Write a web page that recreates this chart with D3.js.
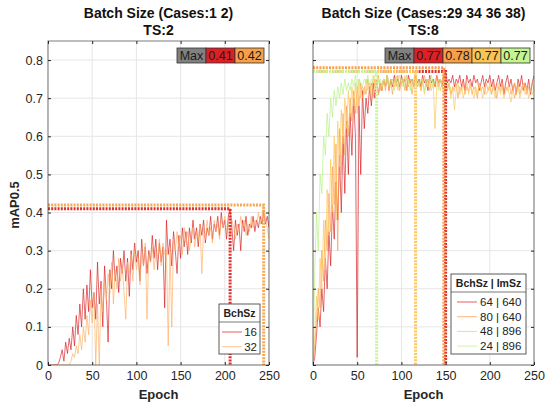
<!DOCTYPE html>
<html><head><meta charset="utf-8">
<script src="https://cdn.jsdelivr.net/npm/d3@7"></script>
<style>body{margin:0;background:#fff}svg{display:block}text{font-family:"Liberation Sans",Arial,sans-serif}</style>
</head><body>
<svg id="c" width="545" height="406"></svg>
<script>
// ---------- data ----------
const epochStep = 2;
const xTicks = [0, 50, 100, 150, 200, 250];
const yTicks = [0, 0.1, 0.2, 0.3, 0.4, 0.5, 0.6, 0.7, 0.8];

const leftTitle = ["Batch Size (Cases:1 2)", "TS:2"];
const rightTitle = ["Batch Size (Cases:29 34 36 38)", "TS:8"];
const leftLegendTitle = "BchSz";
const rightLegendTitle = "BchSz | ImSz";
const leftNames = ["16", "32"];
const rightNames = ["64 | 640", "80 | 640", "48 | 896", "24 | 896"];

const bs16 = [
0,0,0,0,0,0,0.005,0.02,0.04,0.01,
0.06,0.03,0.07,0.04,0.1,0.05,0.13,0.08,0.16,0.1,
0.2,0.12,0.21,0.14,0.25,0.15,0.19,0.12,0.27,0.16,
0.22,0.1,0.26,0.18,0.06,0.25,0.2,0.3,0.22,0.26,
0.19,0.28,0.24,0.3,0.22,0.28,0.18,0.3,0.25,0.32,
0.27,0.3,0.22,0.33,0.26,0.31,0.24,0.3,0.27,0.34,
0.28,0.33,0.25,0.32,0.27,0.31,0.15,0.38,0.29,0.33,
0.26,0.35,0.3,0.24,0.34,0.28,0.36,0.31,0.35,0.29,
0.36,0.32,0.38,0.33,0.36,0.31,0.37,0.34,0.38,0.32,
0.36,0.34,0.39,0.33,0.37,0.35,0.39,0.34,0.40,0.36,
0.38,0.33,0.39,0.41,0.36,0.3,0.38,0.34,0.37,0.3,
0.38,0.35,0.39,0.34,0.37,0.36,0.39,0.35,0.38,0.36,
0.39,0.37,0.40,0.37,0.39,0.36];
const bs32 = [
0,0,0,0,0,0,0,0,0,0,
0,0,0,0.01,0.03,0.02,0.05,0.03,0.08,0.04,
0.1,0.06,0.13,0.08,0.17,0.11,0.19,0.0,0.16,0.0,
0.2,0.14,0.22,0.17,0.24,0.19,0.27,0.16,0.25,0.2,
0.28,0.22,0.26,0.19,0.12,0.27,0.24,0.29,0.22,0.3,
0.25,0.28,0.21,0.3,0.26,0.32,0.12,0.29,0.27,0.31,
0.25,0.3,0.28,0.33,0.26,0.32,0.29,0.3,0.05,0.31,
0.1,0.33,0.3,0.35,0.31,0.34,0.29,0.36,0.32,0.35,
0.3,0.34,0.36,0.31,0.35,0.33,0.37,0.24,0.36,0.33,
0.38,0.34,0.36,0.32,0.38,0.35,0.37,0.33,0.38,0.36,
0.39,0.35,0.37,0.34,0.38,0.36,0.33,0.37,0.35,0.39,
0.36,0.38,0.34,0.37,0.35,0.39,0.36,0.38,0.37,0.4,
0.37,0.39,0.42,0.38,0.36,0.33];

const r64 = [
0,0.02,0.08,0.15,0.1,0.2,0.14,0.28,0.2,0.35,
0.26,0.42,0.33,0.48,0.38,0.55,0.4,0.6,0.45,0.64,
0.5,0.66,0.55,0.7,0.6,0.02,0.68,0.5,0.72,0.62,
0.7,0.66,0.73,0.68,0.74,0.7,0.75,0.71,0.74,0.72,
0.75,0.73,0.76,0.72,0.75,0.73,0.76,0.74,0.75,0.73,
0.76,0.74,0.75,0.72,0.76,0.74,0.75,0.73,0.76,0.74,
0.75,0.73,0.76,0.74,0.75,0.72,0.76,0.74,0.75,0.73,
0.76,0.74,0.75,0.73,0.76,0.77,0.74,0.75,0.74,0.76,
0.73,0.75,0.74,0.76,0.73,0.75,0.72,0.76,0.74,0.75,
0.73,0.76,0.74,0.75,0.72,0.74,0.76,0.73,0.75,0.74,
0.76,0.73,0.75,0.72,0.74,0.76,0.73,0.75,0.71,0.74,
0.76,0.73,0.75,0.72,0.74,0.71,0.75,0.73,0.76,0.72,
0.74,0.72,0.75,0.71,0.74,0.76];
const r80 = [
0,0.05,0.12,0.2,0.15,0.3,0.22,0.38,0.3,0.45,
0.35,0.52,0.42,0.58,0.3,0.62,0.5,0.66,0.55,0.68,
0.6,0.7,0.64,0.72,0.66,0.73,0.68,0.74,0.7,0.73,
0.71,0.75,0.72,0.74,0.7,0.75,0.73,0.76,0.72,0.74,
0.75,0.72,0.76,0.73,0.74,0.71,0.75,0.73,0.76,0.72,
0.74,0.75,0.72,0.76,0.73,0.75,0.71,0.74,0.76,0.73,
0.75,0.72,0.74,0.76,0.73,0.75,0.72,0.74,0.75,0.73,
0.76,0.73,0.75,0.74,0.78,0.74,0.72,0.74,0.71,0.73,
0.72,0.74,0.7,0.73,0.72,0.74,0.71,0.73,0.72,0.74,
0.71,0.73,0.72,0.7,0.74,0.72,0.73,0.71,0.74,0.72,
0.73,0.71,0.74,0.72,0.7,0.73,0.72,0.74,0.71,0.73,
0.72,0.74,0.71,0.73,0.7,0.72,0.74,0.71,0.73,0.72,
0.74,0.71,0.73,0.72,0.74,0.72];
const r48 = [
0,0.08,0.18,0.12,0.28,0.2,0.38,0.25,0.46,0.34,
0.54,0.4,0.6,0.38,0.64,0.52,0.67,0.58,0.7,0.62,
0.72,0.65,0.73,0.68,0.74,0.66,0.75,0.7,0.73,0.71,
0.75,0.72,0.74,0.7,0.76,0.73,0.75,0.71,0.74,0.72,
0.75,0.73,0.76,0.72,0.74,0.75,0.73,0.76,0.72,0.74,
0.75,0.73,0.76,0.72,0.75,0.74,0.73,0.75,0.77,0.73,
0.74,0.72,0.75,0.71,0.74,0.73,0.75,0.72,0.74,0.62,
0.73,0.75,0.72,0.74,0.71,0.73,0.72,0.74,0.7,0.73,
0.67,0.72,0.74,0.71,0.73,0.7,0.72,0.74,0.71,0.73,
0.72,0.7,0.73,0.71,0.74,0.72,0.7,0.73,0.71,0.72,
0.74,0.71,0.73,0.7,0.72,0.74,0.71,0.73,0.7,0.72,
0.73,0.71,0.69,0.72,0.74,0.71,0.73,0.7,0.72,0.74,
0.71,0.73,0.7,0.72,0.71,0.73];
const r24 = [
0,0.25,0.4,0.3,0.5,0.45,0.6,0.55,0.66,0.6,
0.7,0.65,0.72,0.68,0.73,0.7,0.74,0.71,0.75,0.72,
0.74,0.72,0.75,0.73,0.76,0.72,0.75,0.74,0.73,0.75,
0.74,0.76,0.73,0.75,0.74,0.76,0.77,0.74,0.75,0.73,
0.75,0.74,0.76,0.73,0.75,0.74,0.72,0.75,0.73,0.76,
0.74,0.75,0.73,0.76,0.74,0.72,0.75,0.73,0.74,0.75,
0.73,0.75,0.74,0.72,0.75,0.73,0.74,0.76,0.73,0.75,
0.74,0.72,0.75,0.73,0.74,0.75,0.73,0.74,0.72];

// ---------- styles ----------
const leftSeries = [
  {name: leftNames[0], vals: bs16, color: "#d7191c", max: 0.41, maxColor: "#e03030", boxColor: "#dc2026"},
  {name: leftNames[1], vals: bs32, color: "#fdae61", max: 0.42, maxColor: "#f7a850", boxColor: "#f6a04a"}
];
const rightSeries = [
  {name: rightNames[0], vals: r64, color: "#d7191c", max: 0.77, maxColor: "#e03030", boxColor: "#dc2026"},
  {name: rightNames[1], vals: r80, color: "#fd9a4f", max: 0.78, maxColor: "#f7a050", boxColor: "#f6a04a"},
  {name: rightNames[2], vals: r48, color: "#fec44f", max: 0.77, maxColor: "#fcc860", boxColor: "#fcc455"},
  {name: rightNames[3], vals: r24, color: "#b6ef80", max: 0.77, maxColor: "#c6f59a", boxColor: "#c4f590"}
];

const svg = d3.select("#c");
const axCol = "#262626";
const yTop = 41, yBot = 365;

function panel(x0, x1, series, titles, showY, legendTitle, legendBox, maxBoxX) {
  const x = d3.scaleLinear().domain([0, 250]).range([x0, x1]);
  const y = d3.scaleLinear().domain([0, 0.85]).range([yBot, yTop]);
  const g = svg.append("g");
  // grid
  g.selectAll(".gx").data(xTicks).join("line")
    .attr("x1", d => x(d)).attr("x2", d => x(d)).attr("y1", yTop).attr("y2", yBot)
    .attr("stroke", "#e6e6e6").attr("stroke-width", 1);
  g.selectAll(".gy").data(yTicks).join("line")
    .attr("y1", d => y(d)).attr("y2", d => y(d)).attr("x1", x0).attr("x2", x1)
    .attr("stroke", "#e6e6e6").attr("stroke-width", 1);
  // lines
  const clipId = "clip" + x0;
  svg.append("clipPath").attr("id", clipId).append("rect")
    .attr("x", x0).attr("y", yTop).attr("width", x1 - x0).attr("height", yBot - yTop);
  const lg = g.append("g").attr("clip-path", `url(#${clipId})`);
  const line = d3.line().x((d, i) => x(i * epochStep)).y(d => y(d));
  series.forEach(s => {
    lg.append("path").attr("d", line(s.vals)).attr("fill", "none")
      .attr("stroke", s.color).attr("stroke-width", 1).attr("stroke-opacity", 0.65);
  });
  // max lines
  series.forEach(s => {
    const idx = s.vals.indexOf(s.max);
    const ex = idx * epochStep;
    lg.append("path")
      .attr("d", `M${x(0)},${y(s.max)}L${x(ex)},${y(s.max)}L${x(ex)},${y(0)}`)
      .attr("fill", "none").attr("stroke", s.maxColor).attr("stroke-width", 3)
      .attr("stroke-dasharray", "2,1.2");
  });
  // axes box
  g.append("rect").attr("x", x0).attr("y", yTop).attr("width", x1 - x0).attr("height", yBot - yTop)
    .attr("fill", "none").attr("stroke", axCol).attr("stroke-width", 0.8).attr("stroke-opacity", 0.75);
  const xb = d3.axisBottom(x).tickValues(xTicks).tickSizeInner(-3).tickSizeOuter(0).tickPadding(6);
  const xa = g.append("g").attr("transform", `translate(0,${yBot})`).call(xb);
  xa.select(".domain").remove();
  xa.selectAll("line").attr("stroke", axCol);
  xa.selectAll("text").attr("fill", axCol).attr("font-size", 12.5);
  const xt = g.append("g").attr("transform", `translate(0,${yTop})`).call(d3.axisTop(x).tickValues(xTicks).tickSizeInner(-3).tickSizeOuter(0).tickFormat(""));
  xt.select(".domain").remove(); xt.selectAll("line").attr("stroke", axCol);
  const yl = g.append("g").attr("transform", `translate(${x0},0)`)
    .call(d3.axisLeft(y).tickValues(yTicks).tickSizeInner(-3).tickSizeOuter(0).tickPadding(5)
      .tickFormat(showY ? (d => d === 0 ? "0" : d3.format(".1f")(d)) : ""));
  yl.select(".domain").remove(); yl.selectAll("line").attr("stroke", axCol);
  yl.selectAll("text").attr("fill", axCol).attr("font-size", 12.5);
  const yr = g.append("g").attr("transform", `translate(${x1},0)`)
    .call(d3.axisRight(y).tickValues(yTicks).tickSizeInner(-3).tickSizeOuter(0).tickFormat(""));
  yr.select(".domain").remove(); yr.selectAll("line").attr("stroke", axCol);
  // titles
  const cx = (x0 + x1) / 2;
  g.append("text").attr("x", cx).attr("y", 18).attr("text-anchor", "middle")
    .attr("font-weight", "bold").attr("font-size", 14).attr("fill", "#111").text(titles[0]);
  g.append("text").attr("x", cx).attr("y", 35).attr("text-anchor", "middle")
    .attr("font-weight", "bold").attr("font-size", 14).attr("fill", "#111").text(titles[1]);
  g.append("text").attr("x", cx).attr("y", 399).attr("text-anchor", "middle")
    .attr("font-weight", "bold").attr("font-size", 13).attr("fill", axCol).text("Epoch");
  // max box
  const bw = 29, bh = 15, by = 48;
  const mb = g.append("g");
  const cells = [{t: "Max", c: "#808080"}].concat(series.map(s => ({t: d3.format(".2f")(s.max), c: s.boxColor})));
  cells.forEach((cl, i) => {
    const bx = maxBoxX + i * bw;
    mb.append("rect").attr("x", bx).attr("y", by).attr("width", bw).attr("height", bh)
      .attr("fill", cl.c).attr("stroke", "#333").attr("stroke-width", 0.8);
    mb.append("text").attr("x", bx + bw / 2).attr("y", by + 12).attr("text-anchor", "middle")
      .attr("font-size", 12.5).attr("fill", "#1a1a1a").text(cl.t);
  });
  // legend
  const L = legendBox;
  const lgd = g.append("g");
  lgd.append("rect").attr("x", L.x).attr("y", L.y).attr("width", L.w).attr("height", L.h)
    .attr("fill", "#fff").attr("stroke", "#333").attr("stroke-width", 0.8);
  lgd.append("line").attr("x1", L.x).attr("x2", L.x + L.w).attr("y1", L.y + 18).attr("y2", L.y + 18)
    .attr("stroke", "#555").attr("stroke-width", 0.8);
  lgd.append("text").attr("x", L.x + L.w / 2).attr("y", L.y + 13).attr("text-anchor", "middle")
    .attr("font-weight", "bold").attr("font-size", 10.5).attr("fill", "#222").text(legendTitle);
  series.forEach((s, i) => {
    const yy = L.y + 28 + i * 14.7;
    lgd.append("line").attr("x1", L.lx0).attr("x2", L.lx1).attr("y1", yy).attr("y2", yy)
      .attr("stroke", s.color).attr("stroke-opacity", 0.7).attr("stroke-width", 1);
    lgd.append("text").attr("x", L.tx).attr("y", yy + 4).attr("text-anchor", L.anchor)
      .attr("font-size", 11.5).attr("fill", "#222").text(s.name);
  });
}

panel(48, 269, leftSeries, leftTitle, true, leftLegendTitle,
  {x: 219, y: 304, w: 41, h: 50, lx0: 222, lx1: 242, tx: 257, anchor: "end"}, 177);
panel(313, 534, rightSeries, rightTitle, false, rightLegendTitle,
  {x: 451, y: 274, w: 75, h: 80, lx0: 457, lx1: 477, tx: 480, anchor: "start"}, 385);

svg.append("text").attr("transform", "translate(19,205) rotate(-90)").attr("text-anchor", "middle")
  .attr("font-weight", "bold").attr("font-size", 13).attr("fill", axCol).text("mAP0.5");
</script>
</body></html>
